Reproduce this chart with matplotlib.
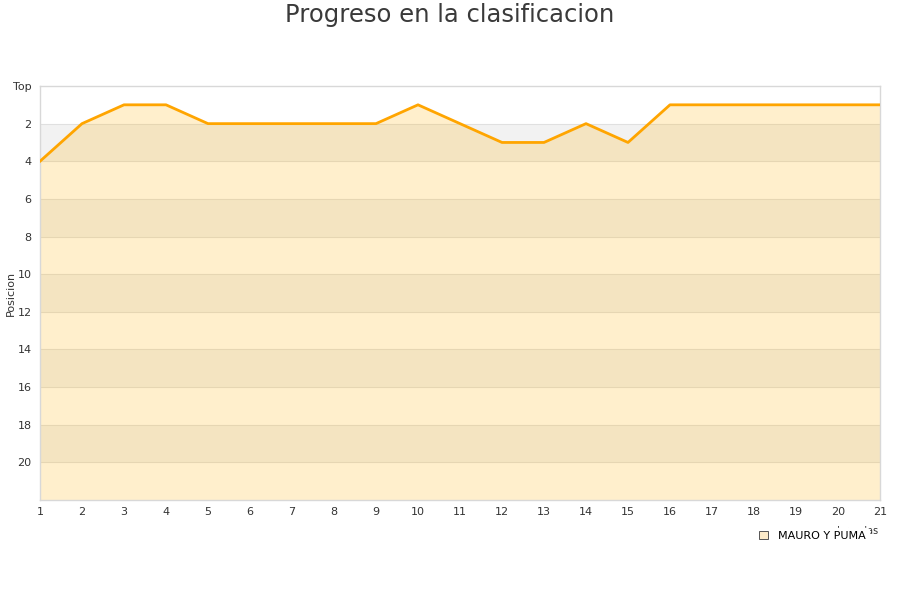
import matplotlib
matplotlib.use("Agg")
import matplotlib.pyplot as plt
from matplotlib.patches import Patch

rounds = list(range(1, 22))
positions = [4, 2, 1, 1, 2, 2, 2, 2, 2, 1, 2, 3, 3, 2, 3, 1, 1, 1, 1, 1, 1]
series_name = "MAURO Y PUMA"
ytick_vals = [0, 2, 4, 6, 8, 10, 12, 14, 16, 18, 20]
ytick_labels = ["Top", "2", "4", "6", "8", "10", "12", "14", "16", "18", "20"]

fig = plt.figure(figsize=(9, 6), dpi=100)
ax = fig.add_axes([40/900, 1-500/600, 840/900, 414/600])

for i in range(0, 22, 4):
    ax.axhspan(i + 2, i + 4, color="#f2f2f2", lw=0, zorder=0)
for y in ytick_vals[1:]:
    ax.axhline(y, color="#e0e0e0", lw=0.8, zorder=1)

ax.fill_between(rounds, positions, 22, color="#ffb000", alpha=0.2, lw=0, zorder=2)
ax.plot(rounds, positions, color="#ffa500", lw=2.0, zorder=3)

ax.set_xlim(1, 21)
ax.set_ylim(22, 0)
ax.set_xticks(rounds)
ax.set_yticks(ytick_vals)
ax.set_yticklabels(ytick_labels)
ax.tick_params(axis="both", length=0, labelsize=8, colors="#333333", pad=6)
ax.tick_params(axis="x", pad=5)
for s in ax.spines.values():
    s.set_color("#d8d8d8")
    s.set_linewidth(1)

fig.text(11/900, 1-293/600, "Posicion", rotation=90, ha="center", va="center",
         fontsize=8, color="#333333")

fig.text(0.5, 1-15/600, "Progreso en la clasificacion", ha="center", va="center",
         fontsize=17.5, color="#3a3a3a")

fig.text(879/900, 1-531/600, "Jornadas", ha="right", va="center", fontsize=7,
         color="#333333", zorder=1)
h = Patch(facecolor="#fdebc9", edgecolor="#555555", lw=0.7)
leg = fig.legend([h], [series_name], loc="center", bbox_to_anchor=(812/900, 1-536/600),
                 frameon=True, fontsize=8, handlelength=0.8, handleheight=0.8,
                 borderpad=0.3, handletextpad=0.9)
leg.set_zorder(10)
leg.get_frame().set_edgecolor("white")
leg.get_frame().set_facecolor("white")
leg.get_frame().set_alpha(1)

fig.savefig("out.png", dpi=100)
